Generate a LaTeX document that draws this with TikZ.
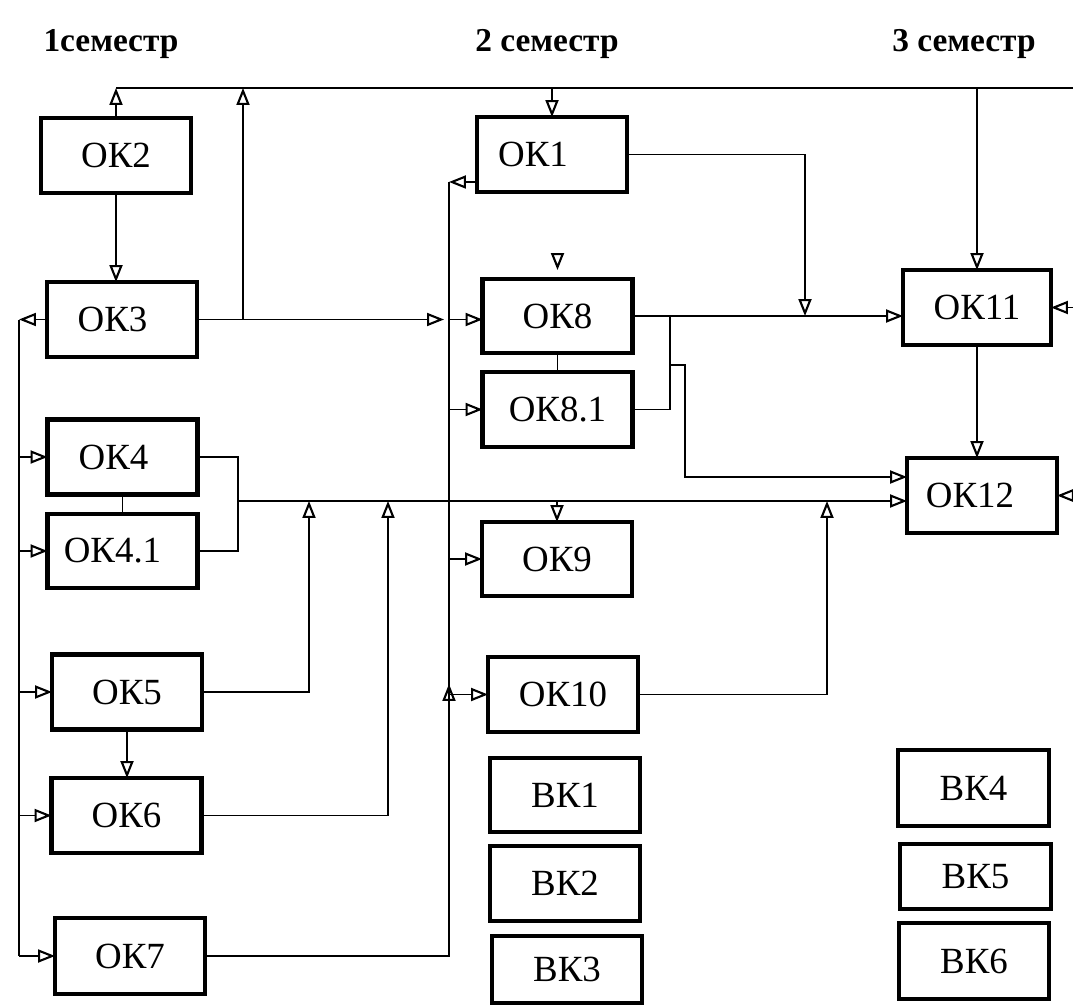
\documentclass[tikz,border=0pt]{standalone}
\usepackage{fontspec}
\setmainfont{Liberation Serif}
\usetikzlibrary{arrows.meta, calc}

\begin{document}
\begin{tikzpicture}[
    x=0.02cm, y=-0.02cm,
    every node/.style={font=\fontsize{21}{25}\selectfont},
    okbox/.style={rectangle, draw, line width=2.3pt, minimum width=3cm, minimum height=1.5cm, inner sep=0pt, outer sep=0pt},
    semtitle/.style={font=\fontsize{19}{23}\selectfont\bfseries},
    arrow/.style={line width=1.1pt, -{Triangle[open, length=3.4mm, width=2.6mm, line width=1.2pt]}},
    link/.style={line width=1.1pt}
]
\useasboundingbox (0,0) rectangle (1073,1007);

% Titles
\node[semtitle] (sem1) at (111,44) {1семестр};
\node[semtitle] (sem2) at (547,44) {2 семестр};
\node[semtitle] (sem3) at (964,44) {3 семестр};

% ============ 1 SEMESTER ============
\node[okbox] (OK2) at (116,155.5) {ОК2};
\node[okbox, label={[xshift=-0.19cm]center:ОК3}] (OK3) at (122,319.5) {};
\node[okbox, label={[xshift=-0.18cm]center:ОК4}] (OK4) at (122.5,457) {};
\node[okbox, minimum height=1.48cm, label={[xshift=-0.2cm]center:ОК4.1}] (OK41) at (122.5,551) {};
\node[okbox] (OK5) at (127,692) {ОК5};
\node[okbox] (OK6) at (126.5,815.5) {ОК6};
\node[okbox, minimum height=1.52cm] (OK7) at (130,956) {ОК7};

% ============ 2 SEMESTER ============
\node[okbox, label={[xshift=-0.38cm]center:ОК1}] (OK1) at (552,154.5) {};
\node[okbox, minimum height=1.48cm] (OK8) at (557.5,316) {ОК8};
\node[okbox] (OK81) at (557.5,409.5) {ОК8.1};
\node[okbox, minimum height=1.48cm] (OK9) at (557,559) {ОК9};
\node[okbox] (OK10) at (563,694.5) {ОК10};
\node[okbox, minimum height=1.48cm] (BK1) at (565,795) {ВК1};
\node[okbox] (BK2) at (565,883.5) {ВК2};
\node[okbox, minimum height=1.34cm] (BK3) at (567,969.5) {ВК3};

% ============ 3 SEMESTER ============
\node[okbox, minimum width=2.96cm] (OK11) at (977,307.5) {ОК11};
\node[okbox, label={[xshift=-0.24cm]center:ОК12}] (OK12) at (982,495.5) {};
\node[okbox, minimum width=3.02cm, minimum height=1.52cm] (BK4) at (973.5,788) {ВК4};
\node[okbox, minimum width=3.02cm, minimum height=1.3cm] (BK5) at (975.5,876.5) {ВК5};
\node[okbox, minimum height=1.52cm] (BK6) at (974,961) {ВК6};

% ============ BUS COORDINATES ============
\coordinate (topbus) at (0,88);
\coordinate (rightedge) at (1073,0);
\coordinate (busA) at (19,0);
\coordinate (busB) at (449,0);
\coordinate (riseOK3) at (243,0);
\coordinate (dropOK1) at (805,0);
\coordinate (joinOK8) at (670,0);
\coordinate (bendOK8) at (685,365);
\coordinate (joinOK4) at (238,0);
\coordinate (riseOK5) at (309,0);
\coordinate (riseOK6) at (388,0);
\coordinate (riseOK10) at (827,0);
\coordinate (riseOK7) at (449,712);
\coordinate (outOK1) at ([yshift=0.2cm]OK1.south west);
\coordinate (in12a) at ([yshift=0.37cm]OK12.west);
\coordinate (in12b) at ([yshift=-0.11cm]OK12.west);

% ============ TOP BUS ============
\draw[link] (OK2.north |- topbus) -- (rightedge |- topbus);
\draw[arrow] (OK2.north) -- (OK2.north |- topbus);
\draw[arrow] (riseOK3 |- OK3.east) -- (riseOK3 |- topbus);
\draw[arrow] (OK1.north |- topbus) -- (OK1.north);
\draw[arrow] (OK11.north |- topbus) -- (OK11.north);

% ============ COLUMN 1 ============
\draw[arrow] (OK2.south) -- (OK2.south |- OK3.north);
\draw[arrow] (OK5.south) -- (OK5.south |- OK6.north);
\draw[link] (OK4.south) -- (OK41.north);
\draw[arrow] (OK3.west) -- (busA |- OK3.west);
\draw[link] (busA |- OK3.west) -- (busA |- OK7.west);
\foreach \n in {OK4,OK41,OK5,OK6,OK7}
    \draw[arrow] (busA |- \n.west) -- (\n.west);

% OK3 to OK8
\draw[arrow] (OK3.east) -- ([xshift=-0.1cm]busB |- OK3.east);
\draw[arrow] (busB |- OK3.east) -- (OK3.east -| OK8.west);

% ============ COLUMN 2 ============
\draw[arrow] (outOK1) -- (busB |- outOK1);
\draw[link] (busB |- outOK1) -- (busB |- OK7.east) -- (OK7.east);
\draw[arrow] (riseOK7) -- ++(0,-28);
\foreach \n in {OK81,OK9,OK10}
    \draw[arrow] (busB |- \n.west) -- (\n.west);
\draw[arrow] ([yshift=0.52cm]OK8.north) -- ([yshift=0.18cm]OK8.north);
\draw[link] (OK8.south) -- (OK81.north);

% OK1, OK8 to OK11
\draw[arrow] (OK1.east) -| (dropOK1 |- OK8.east);
\draw[arrow] (OK8.east) -- (OK8.east -| OK11.west);
\draw[link] (OK81.east) -| (joinOK8 |- OK8.east);
\draw[arrow] (joinOK8 |- bendOK8) -- (bendOK8) |- (in12a);

% OK4 line to OK12
\draw[link] (OK4.east) -| (joinOK4 |- OK41.east) -- (OK41.east);
\draw[arrow] (joinOK4 |- in12b) -- (in12b);
\draw[arrow] (OK5.east) -| (riseOK5 |- in12b);
\draw[arrow] (OK6.east) -| (riseOK6 |- in12b);
\draw[arrow] (OK10.east) -| (riseOK10 |- in12b);
\draw[arrow] (OK9.north |- in12b) -- (OK9.north);

% ============ COLUMN 3 ============
\draw[arrow] (OK11.south) -- (OK11.south |- OK12.north);
\draw[arrow] (rightedge |- OK11.east) -- (OK11.east);
\draw[arrow] (rightedge |- OK12.east) -- (OK12.east);

\end{tikzpicture}
\end{document}
